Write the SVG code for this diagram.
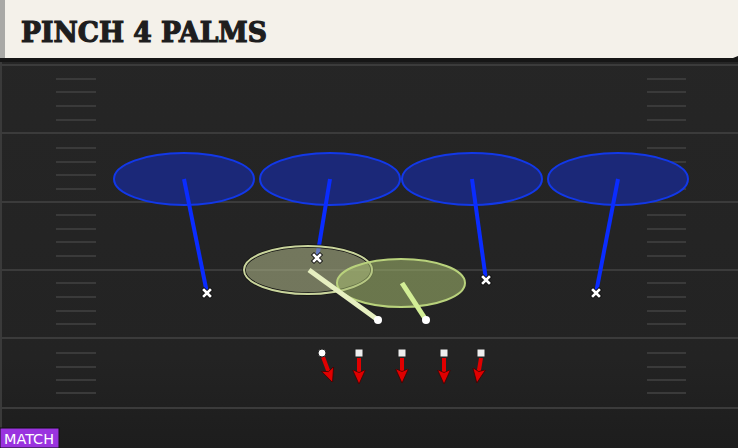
<svg xmlns="http://www.w3.org/2000/svg" width="738" height="448" viewBox="0 0 738 448">
<defs>
<linearGradient id="fieldg" x1="0" y1="0" x2="0" y2="1">
<stop offset="0" stop-color="#262626"/>
<stop offset="0.8" stop-color="#232323"/>
<stop offset="1" stop-color="#1d1d1d"/>
</linearGradient>
<marker id="ah" viewBox="0 0 10 10" refX="3" refY="5" markerWidth="3.6" markerHeight="3.6" orient="auto" markerUnits="strokeWidth">
<path d="M0,0.5 L10,5 L0,9.5 L2,5 z" fill="#e00000" stroke="#3a0000" stroke-width="0.5"/>
</marker>
<g id="x"><path d="M-3,-3 L3,3 M3,-3 L-3,3" stroke="#111" stroke-width="4.4" stroke-linecap="square"/><path d="M-3,-3 L3,3 M3,-3 L-3,3" stroke="#fff" stroke-width="2.6" stroke-linecap="square"/></g>
</defs>
<style>
.yl{stroke:#3b3b3b;stroke-width:2}
.hm{stroke:#3a3a3a;stroke-width:2}
.zone{fill:#1b2878;stroke:#1238e8;stroke-width:2}
.blue{stroke:#0a2cff;stroke-width:4;stroke-linecap:butt}
.rt{stroke:#e00000;stroke-width:4;fill:none}
.sq{fill:#eeeeee;stroke:#222;stroke-width:1}
</style>
<rect x="0" y="0" width="738" height="448" fill="url(#fieldg)"/>
<rect x="0" y="62" width="2" height="386" fill="#3a3a3a"/>
<g id="field">
<line class="yl" x1="0" y1="65" x2="738" y2="65"/>
<line class="yl" x1="0" y1="133" x2="738" y2="133"/>
<line class="yl" x1="0" y1="202" x2="738" y2="202"/>
<line class="yl" x1="0" y1="270" x2="738" y2="270"/>
<line class="yl" x1="0" y1="338" x2="738" y2="338"/>
<line class="yl" x1="0" y1="408" x2="738" y2="408"/>
<g id="hashL">
<path class="hm" d="M56,79H96M56,92H96M56,106H96M56,120H96M56,148H96M56,162H96M56,175H96M56,189H96M56,215H96M56,229H96M56,242H96M56,256H96M56,283H96M56,297H96M56,311H96M56,324H96M56,353H96M56,367H96M56,380H96M56,393H96"/>
</g>
<g id="hashR">
<path class="hm" d="M647,79H686M647,92H686M647,106H686M647,120H686M647,148H686M647,162H686M647,175H686M647,189H686M647,215H686M647,229H686M647,242H686M647,256H686M647,283H686M647,297H686M647,311H686M647,324H686M647,353H686M647,367H686M647,380H686M647,393H686"/>
</g>
</g>
<g id="header">
<rect x="0" y="56" width="738" height="6" fill="#161616"/>
<path d="M0,0 H738 V56 L733,58 H0 Z" fill="#f4f1ea"/>
<rect x="0" y="0" width="5" height="58" fill="#a9a9a6"/>
<text x="21" y="42" font-family="'DejaVu Serif', 'Liberation Serif', serif" font-weight="bold" font-size="27" fill="#1e1e1e" stroke="#1e1e1e" stroke-width="1.2" textLength="246" lengthAdjust="spacingAndGlyphs">PINCH 4 PALMS</text>
</g>
<g id="zone1"><ellipse class="zone" cx="184" cy="179" rx="70" ry="26"/></g>
<g id="zone2"><ellipse class="zone" cx="330" cy="179" rx="70" ry="26"/></g>
<g id="zone3"><ellipse class="zone" cx="472" cy="179" rx="70" ry="26"/></g>
<g id="zone4"><ellipse class="zone" cx="618" cy="179" rx="70" ry="26"/></g>
<g id="connectors">
<line class="blue" x1="184" y1="179" x2="207" y2="293"/>
<line class="blue" x1="330" y1="179" x2="317" y2="258"/>
<line class="blue" x1="472" y1="179" x2="486" y2="280"/>
<line class="blue" x1="618" y1="179" x2="596" y2="293"/>
</g>
<g id="green1"><ellipse cx="308" cy="270" rx="64" ry="24" fill="#b4bc8c" fill-opacity="0.55" stroke="#111" stroke-width="3.5"/><ellipse cx="308" cy="270" rx="64" ry="24" fill="none" stroke="#c9d49c" stroke-width="2"/></g>
<g id="green2"><ellipse cx="401" cy="283" rx="64" ry="24" fill="#a6bc70" fill-opacity="0.55"/><ellipse cx="401" cy="283" rx="64" ry="24" fill="none" stroke="#b9d27c" stroke-width="2"/></g>
<g id="connectors2">
<line x1="309" y1="270" x2="378" y2="320" stroke="#e6efc0" stroke-width="5"/>
<circle cx="378" cy="320" r="4" fill="#fff"/>
<line x1="402" y1="283" x2="426" y2="320" stroke="#d3ee96" stroke-width="5"/>
<circle cx="426" cy="320" r="4" fill="#fff"/>
<use href="#x" x="207" y="293"/>
<use href="#x" x="317" y="258"/>
<use href="#x" x="486" y="280"/>
<use href="#x" x="596" y="293"/>
<path class="rt" d="M323,357 L329,373" marker-end="url(#ah)"/>
<path class="rt" d="M359,358 L359,374" marker-end="url(#ah)"/>
<path class="rt" d="M402,358 L402,373" marker-end="url(#ah)"/>
<path class="rt" d="M444,358 L444,374" marker-end="url(#ah)"/>
<path class="rt" d="M481,358 L478.5,373" marker-end="url(#ah)"/>
</g>
<g id="o1"><circle cx="322" cy="353" r="4" fill="#fff" stroke="#222" stroke-width="1"/></g>
<g id="o2"><rect class="sq" x="355" y="349" width="8" height="8"/></g>
<g id="o3"><rect class="sq" x="398" y="349" width="8" height="8"/></g>
<g id="o4"><rect class="sq" x="440" y="349" width="8" height="8"/></g>
<g id="o5"><rect class="sq" x="477" y="349" width="8" height="8"/></g>
<g id="badge">
<rect x="0" y="428" width="59" height="20" fill="#9a33df" stroke="#111" stroke-width="1"/>
<text x="4" y="444" font-family="'DejaVu Sans', sans-serif" font-size="14" fill="#ffffff" textLength="50" lengthAdjust="spacingAndGlyphs">MATCH</text>
</g>
</svg>
